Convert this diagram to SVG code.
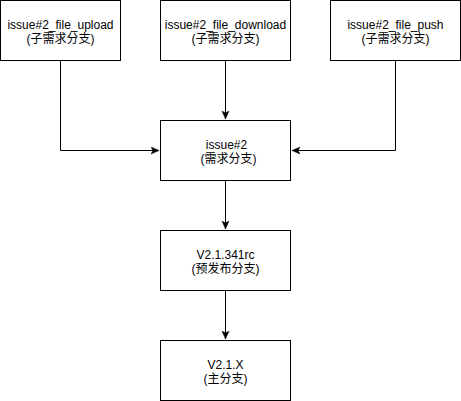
<svg xmlns="http://www.w3.org/2000/svg" width="461" height="401" viewBox="0 0 461 401">
  <style>
    .box { fill: #ffffff; stroke: #000000; stroke-width: 1; }
    .lbl { font-family: "Liberation Sans", Arial, "Noto Sans CJK SC", sans-serif; font-size: 12px; fill: #000000; text-anchor: middle; }
    .edge { fill: none; stroke: #000000; stroke-width: 1; }
  </style>
  <defs>
    <marker id="arrow" markerWidth="10" markerHeight="10" refX="8" refY="4" orient="auto" markerUnits="userSpaceOnUse">
      <path d="M0,0.5 L8,4 L0,7.5 L2,4 Z" fill="#000000" stroke="#000000" stroke-width="0.5"/>
    </marker>
  </defs>
  <rect width="461" height="401" fill="#ffffff"/>

  <g id="connectors">
    <path class="edge" d="M60.5,60.5 V150.5 H159" marker-end="url(#arrow)"/>
    <path class="edge" d="M225.5,60.5 V119" marker-end="url(#arrow)"/>
    <path class="edge" d="M395.5,60.5 V150.5 H292" marker-end="url(#arrow)"/>
    <path class="edge" d="M225.5,180.5 V229" marker-end="url(#arrow)"/>
    <path class="edge" d="M225.5,290.5 V339" marker-end="url(#arrow)"/>
  </g>

  <g id="file_upload">
    <rect class="box" x="0.5" y="0.5" width="120" height="60"/>
    <text class="lbl" x="60.5" y="28.5">issue#2_file_upload</text>
    <text class="lbl" x="60.5" y="42.5">(子需求分支)</text>
  </g>
  <g id="file_download">
    <rect class="box" x="160.5" y="0.5" width="130" height="60"/>
    <text class="lbl" x="225.5" y="28.5">issue#2_file_download</text>
    <text class="lbl" x="225.5" y="42.5">(子需求分支)</text>
  </g>
  <g id="file_push">
    <rect class="box" x="330.5" y="0.5" width="130" height="60"/>
    <text class="lbl" x="395.5" y="28.5">issue#2_file_push</text>
    <text class="lbl" x="395.5" y="42.5">(子需求分支)</text>
  </g>
  <g id="issue2">
    <rect class="box" x="160.5" y="120.5" width="130" height="60"/>
    <text class="lbl" x="226.5" y="148.5">issue#2</text>
    <text class="lbl" x="228.5" y="162.5">(需求分支)</text>
  </g>
  <g id="prerelease">
    <rect class="box" x="160.5" y="230.5" width="130" height="60"/>
    <text class="lbl" x="225.5" y="258.5">V2.1.341rc</text>
    <text class="lbl" x="225.5" y="272.5">(预发布分支)</text>
  </g>
  <g id="master">
    <rect class="box" x="160.5" y="340.5" width="130" height="60"/>
    <text class="lbl" x="225.5" y="368.5">V2.1.X</text>
    <text class="lbl" x="225.5" y="382.5">(主分支)</text>
  </g>
</svg>
